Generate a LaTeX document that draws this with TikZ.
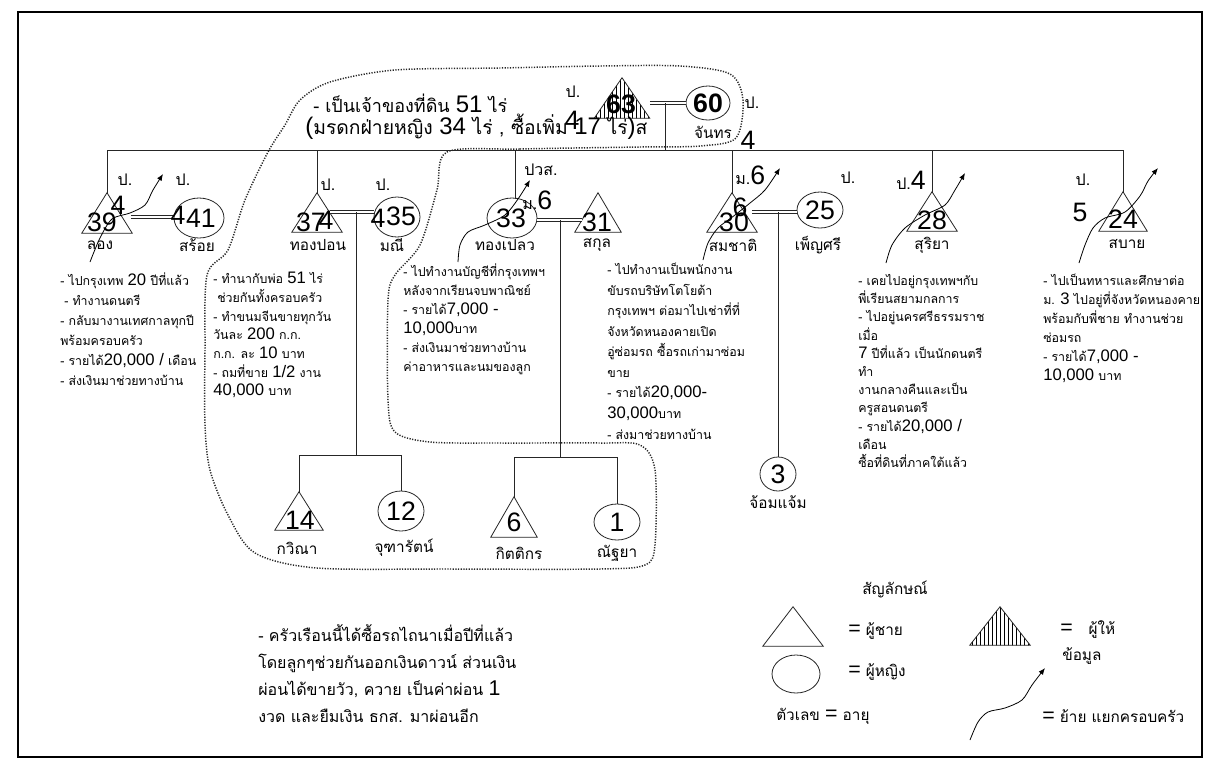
\documentclass[tikz,border=0pt]{standalone}
\usepackage{fontspec}
\setmainfont{Liberation Sans}
\newfontfamily\thai[Script=Thai]{Loma}
\newfontfamily\lat{Liberation Sans}
\usetikzlibrary{shapes.geometric,patterns,arrows.meta}
\newcommand\Dg[1]{{\lat\fontsize{12.5}{14}\selectfont #1}}
\newcommand\Dgb[1]{{\lat\fontsize{16}{17}\selectfont #1}}
\newcommand\Dgt[1]{{\lat\fontsize{18}{19}\selectfont #1}}
\tikzset{
  ln/.style={line width=0.6pt, draw=black!85},
  dbl/.style={draw=black!85, line width=0.5pt, double, double distance=2pt},
  male/.style 2 args={rectangle, inner sep=0pt, minimum width={#1*0.75pt}, minimum height={#2*0.75pt}},
  female/.style 2 args={ellipse, ln, draw, inner sep=0pt, minimum width={#1*0.75pt}, minimum height={#2*0.75pt}},
  num/.style={font=\lat\fontsize{20}{22}\selectfont, inner sep=0pt},
  numb/.style={font=\lat\bfseries\fontsize{20}{22}\selectfont, inner sep=0pt},
  lab/.style={font=\thai\fontsize{12}{14}\selectfont, inner sep=0pt},
  nm/.style={font=\thai\fontsize{11.5}{14}\selectfont, inner sep=0pt},
  blk/.style={font=\thai\fontsize{9.3}{#1}\selectfont, align=left, anchor=north west, inner sep=0pt},
  big/.style={font=\thai\fontsize{12}{20.25}\selectfont, align=left, inner sep=0pt},
  topt/.style={font=\thai\fontsize{#1}{16}\selectfont, inner sep=0pt, anchor=west},
  leg/.style={font=\thai\fontsize{11.5}{13}\selectfont, inner sep=0pt, anchor=west},
  mv/.style={line width=0.6pt, draw=black, -{Latex[length=5pt,width=4pt]}},
  dots/.style={line width=1.1pt, dash pattern=on 0.9pt off 1.1pt, draw=black!85},
}
\begin{document}
\begin{tikzpicture}[x=0.75pt,y=-0.75pt]
\useasboundingbox (0,0) rectangle (1218,769);
\fill[white] (0,0) rectangle (1218,769);
\draw[line width=0.8pt] (18,12) rectangle (1202,757);

% ---------- persons ----------
\node[male={55}{40}] (fa) at (622,98) {};
\node[female={44}{34}] (mo) at (708,103) {};
\node[male={50}{40}] (long) at (107,213) {};
\node[female={50}{40}] (soi) at (199,218) {};
\node[male={50}{39}] (thongpon) at (317,212.5) {};
\node[female={46}{40}] (mani) at (397,217) {};
\node[female={50}{40}] (thongpleo) at (512,218) {};
\node[male={46}{39}] (sakun) at (598,212.5) {};
\node[male={50}{39}] (somchat) at (732,212.5) {};
\node[female={46}{36}] (phensri) at (820,210) {};
\node[male={50}{39}] (suriya) at (932,211.5) {};
\node[male={48}{39}] (sabai) at (1123,211.5) {};
\node[male={48}{38}] (kawinna) at (299,511) {};
\node[female={46}{40}] (jutharat) at (401,511) {};
\node[male={46}{40}] (kittikorn) at (514,517) {};
\node[female={46}{36}] (natthaya) at (617,522) {};
\node[female={36}{34}] (chom) at (778,474) {};
% legend shapes
\node[male={60}{39}] (lgm) at (793,626.5) {};
\node[male={60}{38}] (lgi) at (1000,626) {};
\node[female={48}{38}] (lgf) at (796,674) {};

\fill[pattern=vertical lines] (fa.south west) -- (fa.north) -- (fa.south east) -- cycle;
\fill[pattern=vertical lines] (lgi.south west) -- (lgi.north) -- (lgi.south east) -- cycle;
\foreach \p in {fa,long,thongpon,sakun,somchat,suriya,sabai,kawinna,kittikorn,lgm,lgi}
  \draw[ln] (\p.south west) -- (\p.north) -- (\p.south east) -- cycle;

% ---------- connectors ----------
\coordinate (fm) at (665,103);
\coordinate (sibL) at (107,150);
\coordinate (sibR) at (1123,150);
\draw[dbl] (fa.east |- fm) -- (mo.west |- fm);
\draw[ln] (fm) -- (fm |- sibL);
\draw[ln] (sibL) -- (sibR);
\foreach \p in {long,thongpon,somchat,suriya,sabai}
  \draw[ln] (\p.north |- sibL) -- (\p.north);
\draw[ln] (515,150) -- (515,199);

\draw[dbl] (131,217) -- (soi.west |- 0,217);
\coordinate (c1) at (356,212);
\coordinate (c1b) at (356,455);
\draw[dbl] (330,212) -- (mani.west |- c1);
\draw[ln] (c1) -- (c1b);
\draw[ln] (kawinna.north) -- (kawinna.north |- c1b) -- (jutharat.north |- c1b) -- (jutharat.north);

\coordinate (c2) at (560,220);
\coordinate (c2b) at (560,457);
\draw[dbl] (thongpleo.east |- c2) -- (582,220);
\draw[ln] (c2) -- (c2b);
\draw[ln] (kittikorn.north) -- (kittikorn.north |- c2b) -- (natthaya.north |- c2b) -- (natthaya.north);

\coordinate (c3) at (778,212);
\draw[dbl] (752,212) -- (phensri.west |- c3);
\draw[ln] (c3) -- (chom.north);

% ---------- moving arrows ----------
\coordinate (a1s) at (90,262);   \coordinate (a1e) at (163,174);
\coordinate (a2s) at (458,262);  \coordinate (a2e) at (530,180);
\coordinate (a3s) at (703,260);  \coordinate (a3e) at (780,168);
\coordinate (a4s) at (886,263);  \coordinate (a4e) at (965,173);
\coordinate (a5s) at (1079,263); \coordinate (a5e) at (1158,168);
\coordinate (a6s) at (970,740);  \coordinate (a6e) at (1045,668);
\draw[mv] plot[smooth] coordinates {(a1s) (100,238) (112,219) (130,213) (145,205) (153,190) (a1e)};
\draw[mv] plot[smooth] coordinates {(a2s) (460,245) (468,232) (485,225) (505,215) (518,199) (a2e)};
\draw[mv] plot[smooth] coordinates {(a3s) (708,243) (718,228) (735,215) (750,203) (765,190) (a3e)};
\draw[mv] plot[smooth] coordinates {(a4s) (892,245) (905,228) (925,215) (945,205) (955,190) (a4e)};
\draw[mv] plot[smooth] coordinates {(a5s) (1085,245) (1093,228) (1105,218) (1125,212) (1140,196) (1148,181) (a5e)};
\draw[mv] plot[smooth] coordinates {(a6s) (978,722) (988,712) (1005,708) (1022,700) (1032,685) (a6e)};

% ---------- dotted household boundary ----------
\draw[dots] plot[smooth cycle, tension=0.5] coordinates {
 (447,152) (520,149) (640,147) (700,146) (736,138) (743,100) (730,74) (680,66)
 (600,66) (500,68) (395,70) (330,82) (300,100) (285,125) (268,152) (245,200) (228,250)
 (207,275) (205,350) (205,425) (210,470) (228,515) (255,553) (317,568) (450,569)
 (600,569) (645,565) (655,545) (655,470) (640,445) (600,443) (500,443) (430,442)
 (395,432) (388,400) (388,300) (395,275) (420,245) (437,190)};

% ---------- numbers and labels ----------
\node[numb] (n63) at (621,104) {63};
\node[numb] (n60) at (708,103) {60};
\node[lab] (lfa) at (573,92) {ป.};
\node[num] (lfa4) at (572,120) {4};
\node[lab] (lmo) at (752,103) {ป.};
\node[nm] (nmo) at (713,132) {จันทร};
\node[num] (lmo4) at (748,140) {4};

\node[lab] at (125,180) {ป.};
\node[num] at (118,205) {4};
\node[num] at (102,222) {39};
\node[nm] at (100,245) {ลอง};
\node[lab] at (183,180) {ป.};
\node[num] at (178,215) {4};
\node[num] at (201,218) {41};
\node[nm] at (197,245) {สร้อย};

\node[lab] at (328,185) {ป.};
\node[num] at (311,222) {37};
\node[num] at (326,220) {4};
\node[nm] at (318,245) {ทองปอน};
\node[lab] at (383,185) {ป.};
\node[num] at (378,218) {4};
\node[num] at (401,216) {35};
\node[nm] at (392,245) {มณี};

\node[num] at (511,218) {33};
\node[lab] at (541,170) {ปวส.};
\node[lab, anchor=west] at (522,200) {ม.{\lat\fontsize{20}{22}\selectfont 6}};
\node[nm] at (505,245) {ทองเปลว};
\node[num] at (597,222) {31};
\node[nm] at (597,245) {สกุล};

\node[lab, anchor=west] at (735,175) {ม.{\lat\fontsize{20}{22}\selectfont 6}};
\node[num] at (740,207) {6};
\node[num] at (734,222) {30};
\node[nm] at (733,245) {สมชาติ};
\node[num] at (820,210) {25};
\node[lab] at (848,178) {ป.};
\node[nm] at (818,245) {เพ็ญศรี};
\node[num] at (778,474) {3};
\node[nm] at (778,502) {จ้อมแจ้ม};

\node[lab, anchor=west] at (896,180) {ป.{\lat\fontsize{20}{22}\selectfont 4}};
\node[num] at (932,220) {28};
\node[nm] at (932,245) {สุริยา};
\node[lab] at (1083,180) {ป.};
\node[num] at (1080,212) {5};
\node[num] at (1123,219) {24};
\node[nm] at (1127,244) {สบาย};

\node[num] at (300,520) {14};
\node[nm] at (297,548) {กวิณา};
\node[num] at (401,511) {12};
\node[nm] at (404,548) {จุฑารัตน์};
\node[num] at (514,522) {6};
\node[nm] at (519,553) {กิตติกร};
\node[num] at (617,522) {1};
\node[nm] at (617,553) {ณัฐยา};

% ---------- texts ----------
\node[topt=13.5] (top1) at (313,103) {- เป็นเจ้าของที่ดิน \Dgt{51} ไร่};
\node[topt=14.5] (top2) at (305,127) {\Dgt{(}มรดกฝ่ายหญิง \Dgt{34} ไร่ , ซื้อเพิ่ม \Dgt{17} ไร่\Dgt{)}ส};

\node[blk=15pt] (t1) at (60,272) {- ไปกรุงเทพ \Dg{20} ปีที่แล้ว\\\hspace{3pt}- ทำงานดนตรี\\- กลับมางานเทศกาลทุกปี\\พร้อมครอบครัว\\- รายได้\Dg{20,000 /} เดือน\\- ส่งเงินมาช่วยทางบ้าน};
\node[blk=14pt] (t2) at (213,272) {- ทำนากับพ่อ \Dg{51} ไร่\\\hspace{3pt}ช่วยกันทั้งครอบครัว\\- ทำขนมจีนขายทุกวัน\\วันละ \Dg{200} ก.ก.\\ก.ก. ละ \Dg{10} บาท\\- ถมที่ขาย \Dg{1/2} งาน\\\Dg{40,000} บาท};
\node[blk=14.25pt] (t3) at (403,263) {- ไปทำงานบัญชีที่กรุงเทพฯ\\หลังจากเรียนจบพาณิชย์\\- รายได้\Dg{7,000 -}\\\Dg{10,000}บาท\\- ส่งเงินมาช่วยทางบ้าน\\ค่าอาหารและนมของลูก};
\node[blk=15.4pt] (t4) at (607,263) {- ไปทำงานเป็นพนักงาน\\ขับรถบริษัทโตโยต้า\\กรุงเทพฯ ต่อมาไปเช่าที่ที่\\จังหวัดหนองคายเปิด\\อู่ซ่อมรถ ซื้อรถเก่ามาซ่อม\\ขาย\\- รายได้\Dg{20,000-}\\\Dg{30,000}บาท\\- ส่งมาช่วยทางบ้าน};
\node[blk=13.65pt] (t5) at (858,274) {- เคยไปอยู่กรุงเทพฯกับ\\พี่เรียนสยามกลการ\\- ไปอยู่นครศรีธรรมราช\\เมื่อ\\\Dg{7} ปีที่แล้ว เป็นนักดนตรี\\ทำ\\งานกลางคืนและเป็น\\ครูสอนดนตรี\\- รายได้\Dg{20,000 /}\\เดือน\\ซื้อที่ดินที่ภาคใต้แล้ว};
\node[blk=14.25pt] (t6) at (1043,274) {- ไปเป็นทหารและศึกษาต่อ\\ม. \Dg{3} ไปอยู่ที่จังหวัดหนองคาย\\พร้อมกับพี่ชาย ทำงานช่วย\\ซ่อมรถ\\- รายได้\Dg{7,000 -}\\\Dg{10,000} บาท};

\node[big, anchor=north west] (bt) at (258,624) {- ครัวเรือนนี้ได้ซื้อรถไถนาเมื่อปีที่แล้ว\\โดยลูกๆช่วยกันออกเงินดาวน์ ส่วนเงิน\\ผ่อนได้ขายวัว, ควาย เป็นค่าผ่อน \Dgb{1}\\งวด และยืมเงิน ธกส. มาผ่อนอีก};

% ---------- legend ----------
\node[leg, anchor=center] (lgt) at (895,590) {สัญลักษณ์};
\node[leg] (lg1) at (848,631) {\Dgb{=} ผู้ชาย};
\node[leg] (lg2) at (1060,630) {\Dgb{=}\hspace{12pt}ผู้ให้};
\node[leg] (lg2b) at (1062,656) {ข้อมูล};
\node[leg] (lg3) at (848,672) {\Dgb{=} ผู้หญิง};
\node[leg] (lg4) at (776,716) {ตัวเลข \Dgb{=} อายุ};
\node[leg] (lg5) at (1042,716) {\Dgb{=} ย้าย แยกครอบครัว};
\end{tikzpicture}
\end{document}
